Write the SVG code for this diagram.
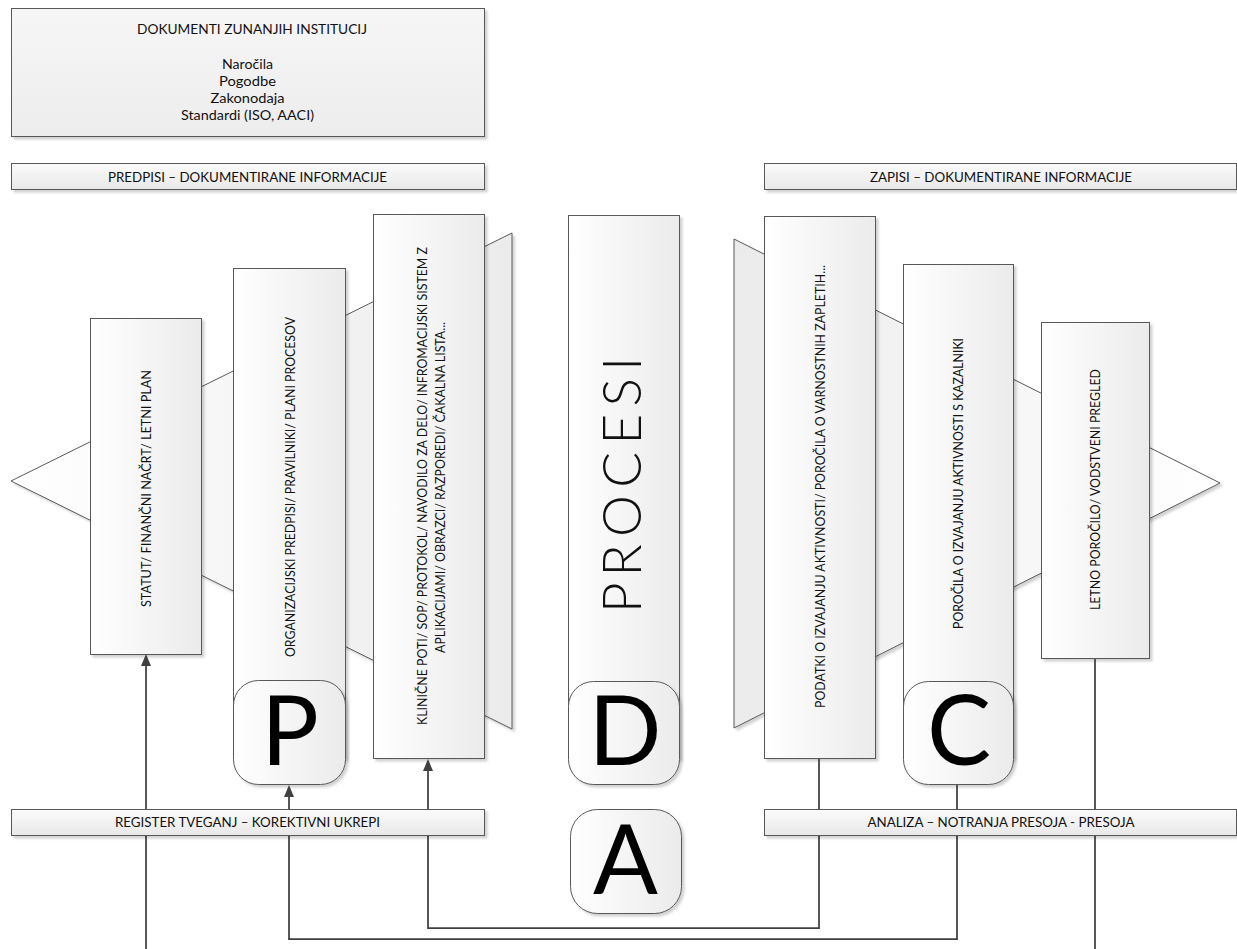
<svg xmlns="http://www.w3.org/2000/svg" width="1237" height="949" viewBox="0 0 1237 949">
<defs>
<linearGradient id="gH" x1="0" y1="0" x2="1" y2="0"><stop offset="0" stop-color="#ffffff"/><stop offset="1" stop-color="#ebebeb"/></linearGradient>
<linearGradient id="gV" x1="0" y1="0" x2="0" y2="1"><stop offset="0" stop-color="#fbfbfb"/><stop offset="1" stop-color="#e8e8e8"/></linearGradient>
<linearGradient id="gT" x1="0" y1="0" x2="0" y2="1"><stop offset="0" stop-color="#f6f6f6"/><stop offset="1" stop-color="#ededed"/></linearGradient>
<linearGradient id="gL" x1="0" y1="0" x2="1" y2="0"><stop offset="0" stop-color="#ffffff"/><stop offset="1" stop-color="#ebebeb"/></linearGradient>
<linearGradient id="gR" x1="0" y1="0" x2="1" y2="0"><stop offset="0" stop-color="#ebebeb"/><stop offset="1" stop-color="#ffffff"/></linearGradient>
<filter id="sh" x="-10%" y="-10%" width="130%" height="130%"><feDropShadow dx="2.5" dy="2.5" stdDeviation="1" flood-color="#000" flood-opacity="0.18"/></filter>
<marker id="arr" viewBox="0 0 12 10" refX="10" refY="5" markerWidth="12" markerHeight="10" markerUnits="userSpaceOnUse" orient="auto"><path d="M0,0 L12,5 L0,10 z" fill="#404040"/></marker>
<style>
.box{fill:url(#gH);stroke:#595959;stroke-width:1;filter:url(#sh)}
.bar{fill:url(#gV);stroke:#595959;stroke-width:1;filter:url(#sh)}
.tri{stroke:#595959;stroke-width:1;filter:url(#sh)}
.t{font-family:"Lato","Open Sans",sans-serif;font-size:13px;fill:#111111;text-anchor:middle}
.big{font-family:"Lato","Open Sans",sans-serif;font-size:96px;fill:#000;text-anchor:middle}
.proc{font-family:"Lato","Open Sans",sans-serif;font-size:53px;font-weight:300;fill:#111111;text-anchor:middle}
.ln{fill:none;stroke:#404040;stroke-width:1.75}
</style>
</defs>
<rect width="1237" height="949" fill="#ffffff"/>

<g id="left-fan">
<polygon class="tri" fill="url(#gL)" points="11,481 512,233 512,729"/>
</g>
<g id="right-fan">
<polygon class="tri" fill="url(#gR)" points="734,239 1220,483 734,728"/>
</g>

<g id="statut">
<rect class="box" x="90.5" y="318.5" width="111" height="336"/>
<text class="t" transform="translate(151,488.5) rotate(-90)" textLength="237" lengthAdjust="spacingAndGlyphs">STATUT/ FINANČNI NAČRT/ LETNI PLAN</text>
</g>
<g id="organizacijski">
<rect class="box" x="233.5" y="268.5" width="112" height="490"/>
<text class="t" transform="translate(295,487) rotate(-90)" textLength="340" lengthAdjust="spacingAndGlyphs">ORGANIZACIJSKI PREDPISI/ PRAVILNIKI/ PLANI PROCESOV</text>
</g>
<g id="P">
<rect class="box" x="233.5" y="680.5" width="112" height="104" rx="25"/>
<text class="big" x="290" y="765">P</text>
</g>
<g id="klinicne">
<rect class="box" x="373.5" y="214.5" width="111" height="544"/>
<text class="t" transform="translate(427,486) rotate(-90)" textLength="478" lengthAdjust="spacingAndGlyphs">KLINIČNE POTI/ SOP/ PROTOKOL/ NAVODILO ZA DELO/ INFROMACIJSKI SISTEM Z</text>
<text class="t" transform="translate(445,487.5) rotate(-90)" textLength="331" lengthAdjust="spacingAndGlyphs">APLIKACIJAMI/ OBRAZCI/ RAZPOREDI/ ČAKALNA LISTA...</text>
</g>
<g id="procesi">
<rect class="box" x="568.5" y="215.5" width="111" height="543"/>
<text class="proc" transform="translate(641,485) rotate(-90)" textLength="256" lengthAdjust="spacing">P R O C E S I</text>
</g>
<g id="D">
<rect class="box" x="568.5" y="681.5" width="111" height="103" rx="25"/>
<text class="big" x="625" y="765">D</text>
</g>
<g id="podatki">
<rect class="box" x="764.5" y="216.5" width="111" height="542"/>
<text class="t" transform="translate(825,486.5) rotate(-90)" textLength="443" lengthAdjust="spacingAndGlyphs">PODATKI O IZVAJANJU AKTIVNOSTI/ POROČILA O VARNOSTNIH ZAPLETIH...</text>
</g>
<g id="porocila">
<rect class="box" x="903.5" y="264.5" width="110" height="494"/>
<text class="t" transform="translate(963,483.5) rotate(-90)" textLength="291" lengthAdjust="spacingAndGlyphs">POROČILA O IZVAJANJU AKTIVNOSTI S KAZALNIKI</text>
</g>
<g id="C">
<rect class="box" x="903.5" y="681.5" width="110" height="103" rx="25"/>
<text class="big" x="959" y="765">C</text>
</g>
<g id="letno">
<rect class="box" x="1041.5" y="322.5" width="108" height="336"/>
<text class="t" transform="translate(1100,489.5) rotate(-90)" textLength="241" lengthAdjust="spacingAndGlyphs">LETNO POROČILO/ VODSTVENI PREGLED</text>
</g>
<g id="A">
<rect class="box" x="570.5" y="809.5" width="111" height="104" rx="27"/>
<text class="big" x="625.5" y="894">A</text>
</g>

<g id="connectors">
<path class="ln" d="M146,949 V656" marker-end="url(#arr)"/>
<path class="ln" d="M957,785 V939 H289 V787" marker-end="url(#arr)"/>
<path class="ln" d="M819,759 V928 H428 V761" marker-end="url(#arr)"/>
<path class="ln" d="M1095,659 V949"/>
</g>

<g id="dokumenti-zunanjih">
<rect class="bar" style="fill:url(#gT)" x="11.5" y="8.5" width="473" height="128"/>
<text class="t" x="252" y="34" textLength="230" lengthAdjust="spacingAndGlyphs">DOKUMENTI ZUNANJIH INSTITUCIJ</text>
<text class="t" x="247.5" y="69" textLength="51" lengthAdjust="spacingAndGlyphs">Naročila</text>
<text class="t" x="247.5" y="86" textLength="57" lengthAdjust="spacingAndGlyphs">Pogodbe</text>
<text class="t" x="247.5" y="103" textLength="74" lengthAdjust="spacingAndGlyphs">Zakonodaja</text>
<text class="t" x="247.5" y="120" textLength="133" lengthAdjust="spacingAndGlyphs">Standardi (ISO, AACI)</text>
</g>
<g id="predpisi">
<rect class="bar" x="11.5" y="163.5" width="473" height="26"/>
<text class="t" x="247.5" y="182" textLength="279" lengthAdjust="spacingAndGlyphs">PREDPISI – DOKUMENTIRANE INFORMACIJE</text>
</g>
<g id="zapisi">
<rect class="bar" x="764.5" y="163.5" width="472" height="26"/>
<text class="t" x="1001" y="182" textLength="262" lengthAdjust="spacingAndGlyphs">ZAPISI – DOKUMENTIRANE INFORMACIJE</text>
</g>
<g id="register">
<rect class="bar" x="11.5" y="809.5" width="473" height="26"/>
<text class="t" x="247.5" y="827" textLength="265" lengthAdjust="spacingAndGlyphs">REGISTER TVEGANJ – KOREKTIVNI UKREPI</text>
</g>
<g id="analiza">
<rect class="bar" x="764.5" y="809.5" width="472" height="26"/>
<text class="t" x="1001" y="827" textLength="267" lengthAdjust="spacingAndGlyphs">ANALIZA – NOTRANJA PRESOJA - PRESOJA</text>
</g>
</svg>
